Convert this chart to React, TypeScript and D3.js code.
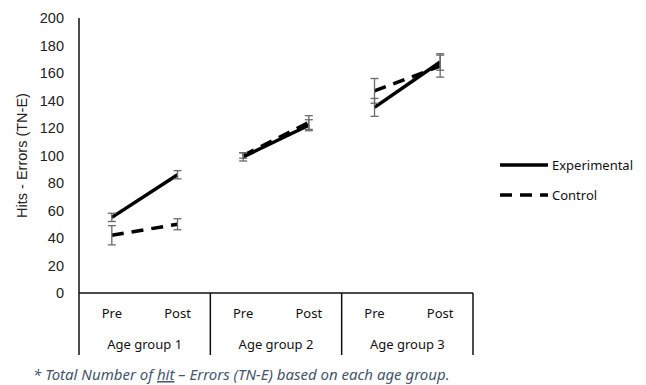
import React from "react";
import * as d3 from "d3";

const groups = ["Age group 1", "Age group 2", "Age group 3"];
const phases = ["Pre", "Post"];
const experimental = [[55, 86], [99, 122], [135, 168]];
const experimentalErr = [[3, 3], [3, 4], [6.5, 6]];
const control = [[42, 50], [100, 124], [147, 165]];
const controlErr = [[7, 4], [2, 5], [9, 8]];
const yTicks = [0, 20, 40, 60, 80, 100, 120, 140, 160, 180, 200];

const W = 646, H = 385;
const left = 79, right = 473, top = 18, bottom = 293;

export default function App() {
  const y = d3.scaleLinear().domain([0, 200]).range([bottom, top]);
  const gx = d3.scaleBand().domain(groups).range([left, right]).paddingInner(0).paddingOuter(0);
  const px = (gi: number, pi: number) => {
    const g = groups[gi];
    const inner = d3.scaleBand().domain(phases).range([gx(g)!, gx(g)! + gx.bandwidth()]);
    return inner(phases[pi])! + inner.bandwidth() / 2;
  };
  const line = d3.line<[number, number]>().x(d => d[0]).y(d => d[1]);
  const catFont = "'Noto Sans', 'Open Sans', sans-serif";
  const tickFont = "'Liberation Sans', Arial, sans-serif";

  const series = [
    { vals: experimental, errs: experimentalErr, dash: undefined as string | undefined },
    { vals: control, errs: controlErr, dash: "12 8" },
  ];

  return (
    <svg width={W} height={H} style={{ position: "absolute", left: 0, top: 0, background: "#fff" }}>
      <rect width={W} height={H} fill="#fff" />
      {/* y tick labels */}
      {yTicks.map(t => (
        <text key={t} x={64} y={y(t)} dy="0.35em" textAnchor="end" fontFamily={tickFont} fontSize={14.5} fill="#222">{t}</text>
      ))}
      <text transform={`translate(22,${(top + bottom) / 2}) rotate(-90)`} textAnchor="middle" dy="0.35em" fontFamily={tickFont} fontSize={14.5} fill="#222">Hits - Errors (TN-E)</text>
      {/* axes */}
      <line x1={left} x2={left} y1={top} y2={355} stroke="#111" strokeWidth={1.5} />
      <line x1={left} x2={right} y1={bottom} y2={bottom} stroke="#111" strokeWidth={1.5} />
      {groups.map((g, gi) => (
        <line key={"sep" + gi} x1={gx(g)! + gx.bandwidth()} x2={gx(g)! + gx.bandwidth()} y1={bottom} y2={355} stroke="#111" strokeWidth={1.5} />
      ))}
      {groups.map((g, gi) => (
        <g key={"lab" + gi}>
          {phases.map((p, pi) => (
            <text key={p} x={px(gi, pi)} y={313} dy="0.35em" textAnchor="middle" fontFamily={catFont} fontSize={13} fill="#111">{p}</text>
          ))}
          <text x={gx(g)! + gx.bandwidth() / 2} y={344} dy="0.35em" textAnchor="middle" fontFamily={catFont} fontSize={13} fill="#111">{g}</text>
        </g>
      ))}
      {/* series lines */}
      {series.map((s, si) => (
        <g key={"s" + si}>
          {groups.map((g, gi) => (
            <path key={gi} d={line(phases.map((_, pi) => [px(gi, pi), y(s.vals[gi][pi])]))!} fill="none" stroke="#000" strokeWidth={3.5} strokeDasharray={s.dash} />
          ))}
        </g>
      ))}
      {/* error bars */}
      {series.map((s, si) => (
        <g key={"e" + si}>
          {groups.map((g, gi) => phases.map((_, pi) => {
            const x = px(gi, pi);
            const v = s.vals[gi][pi], e = s.errs[gi][pi];
            return (
              <g key={gi + "-" + pi} stroke="#6a6a6a" strokeWidth={1.3}>
                <line x1={x} x2={x} y1={y(v - e)} y2={y(v + e)} />
                <line x1={x - 4} x2={x + 4} y1={y(v - e)} y2={y(v - e)} />
                <line x1={x - 4} x2={x + 4} y1={y(v + e)} y2={y(v + e)} />
              </g>
            );
          }))}
        </g>
      ))}
      {/* legend */}
      <line x1={500} x2={548} y1={165} y2={165} stroke="#000" strokeWidth={3.5} />
      <text x={552} y={165} dy="0.35em" fontFamily={catFont} fontSize={13} fill="#111">Experimental</text>
      <line x1={500} x2={548} y1={195} y2={195} stroke="#000" strokeWidth={3.5} strokeDasharray="12 8" />
      <text x={552} y={195} dy="0.35em" fontFamily={catFont} fontSize={13} fill="#111">Control</text>
      {/* footnote */}
      <text x={33} y={380} fontFamily={catFont} fontSize={15} fontStyle="italic" fill="#44546a">
        <tspan>*  Total Number of </tspan>
        <tspan textDecoration="underline">hit</tspan>
        <tspan> – Errors (TN-E) based on each age group.</tspan>
      </text>
    </svg>
  );
}
